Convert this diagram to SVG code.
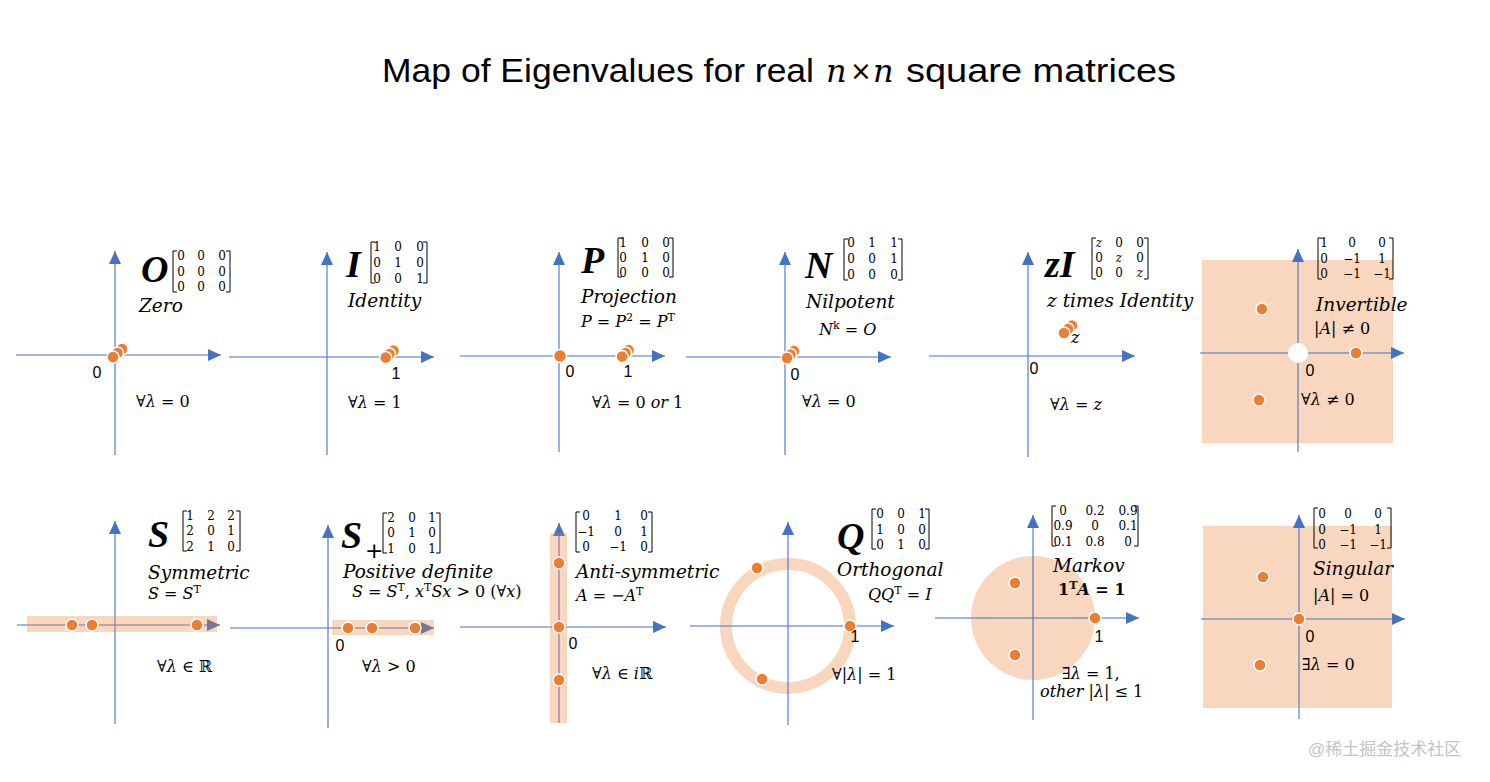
<svg xmlns="http://www.w3.org/2000/svg" width="1490" height="782" viewBox="0 0 1490 782">
<style>
.ax{stroke:#4472C4;stroke-width:1.1;fill:none}
.dot{fill:#ED7D31;stroke:#fff;stroke-width:1.5}
.sh{fill:#ED7D31;fill-opacity:0.31}
.ring{fill:none;stroke:#ED7D31;stroke-opacity:0.31;stroke-width:12}
.big{font-family:"Liberation Serif","DejaVu Serif",serif;font-style:italic;font-weight:bold;font-size:38px;fill:#000}
.lbl{font-family:"DejaVu Serif",serif;font-style:italic;font-size:18.5px;fill:#000}
.m{font-family:"DejaVu Serif",serif;font-size:16px;fill:#000}
.i{font-style:italic}
.sup{font-size:11px}
.mx{font-family:"DejaVu Serif",serif;font-size:12px;text-anchor:middle;fill:#000}
.br{stroke:#000;stroke-width:1;fill:none}
.tk{font-family:"Liberation Sans",Arial,sans-serif;font-size:16px;text-anchor:middle;fill:#000}
.title{font-family:"Liberation Sans",Arial,sans-serif;font-size:33px;fill:#000}
</style>
<defs>
<marker id="ah" markerUnits="userSpaceOnUse" markerWidth="14" markerHeight="12" viewBox="0 0 14 12" refX="13" refY="6" orient="auto">
<path d="M0,0 L13,6 L0,12 z" fill="#4472C4"/>
</marker>
</defs>
<rect width="1490" height="782" fill="#fff"/>

<g id="title">
<text class="title" x="382" y="82" textLength="432" lengthAdjust="spacingAndGlyphs">Map of Eigenvalues for real</text>
<text x="826" y="82" font-family="DejaVu Serif,serif" font-style="italic" font-size="32">n</text>
<text x="850" y="80" font-family="DejaVu Sans,sans-serif" font-size="26">×</text>
<text x="873" y="82" font-family="DejaVu Serif,serif" font-style="italic" font-size="32">n</text>
<text class="title" x="906" y="82" textLength="270" lengthAdjust="spacingAndGlyphs">square matrices</text>
</g>

<g id="connectors">
<line class="ax" x1="115" y1="455" x2="115" y2="251" marker-end="url(#ah)"/>
<line class="ax" x1="16" y1="355" x2="221" y2="355" marker-end="url(#ah)"/>
<line class="ax" x1="327" y1="455" x2="327" y2="252" marker-end="url(#ah)"/>
<line class="ax" x1="229" y1="357" x2="434" y2="357" marker-end="url(#ah)"/>
<line class="ax" x1="559" y1="452" x2="559" y2="252" marker-end="url(#ah)"/>
<line class="ax" x1="460" y1="356" x2="665" y2="356" marker-end="url(#ah)"/>
<line class="ax" x1="785" y1="455" x2="785" y2="252" marker-end="url(#ah)"/>
<line class="ax" x1="686" y1="357" x2="891" y2="357" marker-end="url(#ah)"/>
<line class="ax" x1="1028" y1="457" x2="1028" y2="252" marker-end="url(#ah)"/>
<line class="ax" x1="929" y1="356" x2="1135" y2="356" marker-end="url(#ah)"/>
</g>

<g id="zero">
<circle class="dot" cx="122" cy="349" r="6"/>
<circle class="dot" cx="117.5" cy="353" r="6"/>
<circle class="dot" cx="113" cy="357" r="6"/>
<text class="tk" x="97" y="378">0</text>
<text class="big" x="141" y="282">O</text>
<path class="br" d="M177,251 H173 V292 H177 M226,251 H230 V292 H226"/>
<text class="mx" y="260"><tspan x="181">0</tspan><tspan x="201">0</tspan><tspan x="222">0</tspan></text>
<text class="mx" y="276"><tspan x="181">0</tspan><tspan x="201">0</tspan><tspan x="222">0</tspan></text>
<text class="mx" y="291"><tspan x="181">0</tspan><tspan x="201">0</tspan><tspan x="222">0</tspan></text>
<text class="lbl" x="139" y="312">Zero</text>
<text class="m" x="136" y="407">∀<tspan class="i">λ</tspan> = 0</text>
</g>

<g id="identity">
<circle class="dot" cx="393.5" cy="350.5" r="6"/>
<circle class="dot" cx="389.5" cy="354" r="6"/>
<circle class="dot" cx="385.7" cy="357.5" r="6"/>
<text class="tk" x="396" y="378.5">1</text>
<text class="big" x="346" y="277">I</text>
<path class="br" d="M375,242 H371 V283 H375 M423,242 H427 V283 H423"/>
<text class="mx" y="251"><tspan x="377">1</tspan><tspan x="398">0</tspan><tspan x="420">0</tspan></text>
<text class="mx" y="267"><tspan x="377">0</tspan><tspan x="398">1</tspan><tspan x="420">0</tspan></text>
<text class="mx" y="283"><tspan x="377">0</tspan><tspan x="398">0</tspan><tspan x="420">1</tspan></text>
<text class="lbl" x="348" y="307">Identity</text>
<text class="m" x="348" y="408">∀<tspan class="i">λ</tspan> = 1</text>
</g>

<g id="projection">
<circle class="dot" cx="560" cy="356" r="6.5"/>
<circle class="dot" cx="628.5" cy="350" r="6"/>
<circle class="dot" cx="625.5" cy="353" r="6"/>
<circle class="dot" cx="622" cy="356.5" r="6"/>
<text class="tk" x="570" y="377">0</text>
<text class="tk" x="628" y="377">1</text>
<text class="big" x="581" y="273">P</text>
<path class="br" d="M622,238 H618 V277 H622 M669,238 H673 V277 H669"/>
<text class="mx" y="247"><tspan x="623">1</tspan><tspan x="645">0</tspan><tspan x="666">0</tspan></text>
<text class="mx" y="262"><tspan x="623">0</tspan><tspan x="645">1</tspan><tspan x="666">0</tspan></text>
<text class="mx" y="277"><tspan x="623">0</tspan><tspan x="645">0</tspan><tspan x="666">0</tspan></text>
<text class="lbl" x="581" y="303">Projection</text>
<text class="m" x="581" y="327"><tspan class="i">P</tspan> = <tspan class="i">P</tspan><tspan class="sup" dy="-6">2</tspan><tspan dy="6"> = </tspan><tspan class="i">P</tspan><tspan class="sup" dy="-6">T</tspan></text>
<text class="m" x="592" y="408">∀<tspan class="i">λ</tspan> = 0 <tspan class="i">or</tspan> 1</text>
</g>

<g id="nilpotent">
<circle class="dot" cx="794" cy="351" r="6"/>
<circle class="dot" cx="790.5" cy="354.5" r="6"/>
<circle class="dot" cx="787" cy="358" r="6"/>
<text class="tk" x="795" y="379.5">0</text>
<text class="big" x="805" y="278">N</text>
<path class="br" d="M848,239 H844 V280 H848 M898,239 H902 V280 H898"/>
<text class="mx" y="247"><tspan x="851">0</tspan><tspan x="872">1</tspan><tspan x="894">1</tspan></text>
<text class="mx" y="263"><tspan x="851">0</tspan><tspan x="872">0</tspan><tspan x="894">1</tspan></text>
<text class="mx" y="279"><tspan x="851">0</tspan><tspan x="872">0</tspan><tspan x="894">0</tspan></text>
<text class="lbl" x="806" y="308">Nilpotent</text>
<text class="m" x="819" y="335"><tspan class="i">N</tspan><tspan class="sup" dy="-6">k</tspan><tspan dy="6"> = </tspan><tspan class="i">O</tspan></text>
<text class="m" x="802" y="407">∀<tspan class="i">λ</tspan> = 0</text>
</g>

<g id="z-identity">
<circle class="dot" cx="1072" cy="325.5" r="6"/>
<circle class="dot" cx="1068" cy="329" r="6"/>
<circle class="dot" cx="1064" cy="333" r="6"/>
<text class="m i" x="1071" y="343">z</text>
<text class="tk" x="1034" y="373.5">0</text>
<text class="big" x="1045" y="277">zI</text>
<path class="br" d="M1096,238 H1092 V279 H1096 M1144,238 H1148 V279 H1144"/>
<text class="mx" y="247"><tspan x="1099" font-style="italic">z</tspan><tspan x="1119">0</tspan><tspan x="1140">0</tspan></text>
<text class="mx" y="262"><tspan x="1099">0</tspan><tspan x="1119" font-style="italic">z</tspan><tspan x="1140">0</tspan></text>
<text class="mx" y="277"><tspan x="1099">0</tspan><tspan x="1119">0</tspan><tspan x="1140" font-style="italic">z</tspan></text>
<text class="lbl" x="1047" y="307">z times Identity</text>
<text class="m" x="1050" y="410">∀<tspan class="i">λ</tspan> = <tspan class="i">z</tspan></text>
</g>

<g id="invertible">
<rect class="sh" x="1202" y="260" width="191" height="183"/>
<line class="ax" x1="1298" y1="452" x2="1298" y2="249" marker-end="url(#ah)"/>
<line class="ax" x1="1200" y1="353" x2="1404" y2="353" marker-end="url(#ah)"/>
<circle cx="1298" cy="353" r="10" fill="#fff"/>
<circle class="dot" cx="1262" cy="309" r="6"/>
<circle class="dot" cx="1356" cy="353" r="6"/>
<circle class="dot" cx="1259" cy="400" r="6"/>
<text class="tk" x="1310" y="376">0</text>
<path class="br" d="M1322,238 H1318 V279 H1322 M1389,238 H1393 V279 H1389"/>
<text class="mx" y="247"><tspan x="1324">1</tspan><tspan x="1352">0</tspan><tspan x="1382">0</tspan></text>
<text class="mx" y="263"><tspan x="1324">0</tspan><tspan x="1352">−1</tspan><tspan x="1382">1</tspan></text>
<text class="mx" y="278"><tspan x="1324">0</tspan><tspan x="1352">−1</tspan><tspan x="1382">−1</tspan></text>
<text class="lbl" x="1316" y="311">Invertible</text>
<text class="m" x="1314" y="334">|<tspan class="i">A</tspan>| ≠ 0</text>
<text class="m" x="1301" y="405">∀<tspan class="i">λ</tspan> ≠ 0</text>
</g>

<g id="symmetric">
<line class="ax" x1="115" y1="724" x2="115" y2="521" marker-end="url(#ah)"/>
<line class="ax" x1="17" y1="625" x2="220" y2="625" marker-end="url(#ah)"/>
<rect class="sh" x="27" y="616" width="190" height="16"/>
<circle class="dot" cx="72" cy="625" r="6"/>
<circle class="dot" cx="92" cy="625" r="6"/>
<circle class="dot" cx="197" cy="625" r="6"/>
<text class="big" x="148" y="547">S</text>
<path class="br" d="M187,511 H183 V551 H187 M236,511 H240 V551 H236"/>
<text class="mx" y="519.5"><tspan x="190">1</tspan><tspan x="211">2</tspan><tspan x="231">2</tspan></text>
<text class="mx" y="535"><tspan x="190">2</tspan><tspan x="211">0</tspan><tspan x="231">1</tspan></text>
<text class="mx" y="551"><tspan x="190">2</tspan><tspan x="211">1</tspan><tspan x="231">0</tspan></text>
<text class="lbl" x="148" y="579">Symmetric</text>
<text class="m" x="148" y="599"><tspan class="i">S</tspan> = <tspan class="i">S</tspan><tspan class="sup" dy="-6">T</tspan></text>
<text class="m" x="157" y="672">∀<tspan class="i">λ</tspan> ∈ ℝ</text>
</g>

<g id="positive-definite">
<line class="ax" x1="328" y1="728" x2="328" y2="525" marker-end="url(#ah)"/>
<line class="ax" x1="230" y1="628" x2="434" y2="628" marker-end="url(#ah)"/>
<rect class="sh" x="332" y="620" width="102" height="15"/>
<circle class="dot" cx="348" cy="628" r="6"/>
<circle class="dot" cx="372" cy="628" r="6"/>
<circle class="dot" cx="415" cy="628" r="6"/>
<text class="tk" x="340" y="650.5">0</text>
<text class="big" x="341" y="548">S</text>
<text x="365" y="558" font-family="DejaVu Sans,sans-serif" font-size="22" fill="#000">+</text>
<path class="br" d="M387,513 H383 V553 H387 M436,513 H440 V553 H436"/>
<text class="mx" y="521.5"><tspan x="391">2</tspan><tspan x="412">0</tspan><tspan x="432">1</tspan></text>
<text class="mx" y="537"><tspan x="391">0</tspan><tspan x="412">1</tspan><tspan x="432">0</tspan></text>
<text class="mx" y="552.5"><tspan x="391">1</tspan><tspan x="412">0</tspan><tspan x="432">1</tspan></text>
<text class="lbl" x="343" y="578">Positive definite</text>
<text class="m" x="352" y="597"><tspan class="i">S</tspan> = <tspan class="i">S</tspan><tspan class="sup" dy="-6">T</tspan><tspan dy="6">, </tspan><tspan class="i">x</tspan><tspan class="sup" dy="-6">T</tspan><tspan class="i" dy="6">Sx</tspan> &gt; 0 (∀<tspan class="i">x</tspan>)</text>
<text class="m" x="362" y="672">∀<tspan class="i">λ</tspan>  &gt; 0</text>
</g>

<g id="anti-symmetric">
<line class="ax" x1="460" y1="627" x2="666" y2="627" marker-end="url(#ah)"/>
<line class="ax" x1="559" y1="723" x2="559" y2="523" marker-end="url(#ah)"/>
<rect class="sh" x="550" y="533" width="17" height="190"/>
<circle class="dot" cx="559" cy="563" r="6"/>
<circle class="dot" cx="559" cy="627" r="6"/>
<circle class="dot" cx="559" cy="680" r="6"/>
<text class="tk" x="573" y="649">0</text>
<path class="br" d="M580,512 H576 V552 H580 M648,512 H652 V552 H648"/>
<text class="mx" y="520"><tspan x="586">0</tspan><tspan x="618">1</tspan><tspan x="644">0</tspan></text>
<text class="mx" y="535.5"><tspan x="586">−1</tspan><tspan x="618">0</tspan><tspan x="644">1</tspan></text>
<text class="mx" y="550.5"><tspan x="586">0</tspan><tspan x="618">−1</tspan><tspan x="644">0</tspan></text>
<text class="lbl" x="576" y="578">Anti-symmetric</text>
<text class="m" x="576" y="601"><tspan class="i">A</tspan> = −<tspan class="i">A</tspan><tspan class="sup" dy="-6">T</tspan></text>
<text class="m" x="592" y="679">∀<tspan class="i">λ</tspan> ∈ <tspan class="i">i</tspan>ℝ</text>
</g>

<g id="orthogonal">
<circle class="ring" cx="788" cy="626" r="62"/>
<line class="ax" x1="788" y1="725" x2="788" y2="522" marker-end="url(#ah)"/>
<line class="ax" x1="690" y1="626" x2="894" y2="626" marker-end="url(#ah)"/>
<circle class="dot" cx="757" cy="568" r="6"/>
<circle class="dot" cx="850" cy="626" r="6"/>
<circle class="dot" cx="762" cy="679" r="6"/>
<text class="tk" x="855" y="642">1</text>
<text class="big" x="837" y="549">Q</text>
<path class="br" d="M876,509 H872 V549 H876 M925,509 H929 V549 H925"/>
<text class="mx" y="517.5"><tspan x="880">0</tspan><tspan x="901">0</tspan><tspan x="922">1</tspan></text>
<text class="mx" y="533.5"><tspan x="880">1</tspan><tspan x="901">0</tspan><tspan x="922">0</tspan></text>
<text class="mx" y="549"><tspan x="880">0</tspan><tspan x="901">1</tspan><tspan x="922">0</tspan></text>
<text class="lbl" x="837" y="576">Orthogonal</text>
<text class="m" x="868" y="600"><tspan class="i">QQ</tspan><tspan class="sup" dy="-6">T</tspan><tspan dy="6"> = </tspan><tspan class="i">I</tspan></text>
<text class="m" x="832" y="680">∀|<tspan class="i">λ</tspan>| = 1</text>
</g>

<g id="markov">
<circle class="sh" cx="1033" cy="618" r="62"/>
<line class="ax" x1="1033" y1="720" x2="1033" y2="515" marker-end="url(#ah)"/>
<line class="ax" x1="935" y1="618" x2="1139" y2="618" marker-end="url(#ah)"/>
<circle class="dot" cx="1015" cy="583" r="6"/>
<circle class="dot" cx="1095" cy="618" r="6"/>
<circle class="dot" cx="1015" cy="655" r="6"/>
<text class="tk" x="1099" y="642">1</text>
<path class="br" d="M1056,506 H1052 V546 H1056 M1134,506 H1138 V546 H1134"/>
<text class="mx" y="515"><tspan x="1063">0</tspan><tspan x="1095">0.2</tspan><tspan x="1128">0.9</tspan></text>
<text class="mx" y="530"><tspan x="1063">0.9</tspan><tspan x="1095">0</tspan><tspan x="1128">0.1</tspan></text>
<text class="mx" y="545.5"><tspan x="1063">0.1</tspan><tspan x="1095">0.8</tspan><tspan x="1128">0</tspan></text>
<text class="lbl" x="1053" y="572">Markov</text>
<text class="m" x="1058" y="595" font-weight="bold">1<tspan class="sup" dy="-6">T</tspan><tspan class="i" dy="6">A</tspan> = 1</text>
<text class="m" x="1062" y="679">∃<tspan class="i">λ</tspan> = 1,</text>
<text class="m" x="1040" y="697"><tspan class="i">other</tspan> |<tspan class="i">λ</tspan>| ≤ 1</text>
</g>

<g id="singular">
<rect class="sh" x="1203" y="526" width="189" height="182"/>
<line class="ax" x1="1299" y1="719" x2="1299" y2="515" marker-end="url(#ah)"/>
<line class="ax" x1="1201" y1="619" x2="1405" y2="619" marker-end="url(#ah)"/>
<circle class="dot" cx="1263" cy="577" r="6"/>
<circle class="dot" cx="1299" cy="619" r="6"/>
<circle class="dot" cx="1260" cy="665" r="6"/>
<text class="tk" x="1310" y="641.5">0</text>
<path class="br" d="M1318,508 H1314 V548 H1318 M1387,508 H1391 V548 H1387"/>
<text class="mx" y="517.5"><tspan x="1322">0</tspan><tspan x="1348">0</tspan><tspan x="1378">0</tspan></text>
<text class="mx" y="533.5"><tspan x="1322">0</tspan><tspan x="1348">−1</tspan><tspan x="1378">1</tspan></text>
<text class="mx" y="548.5"><tspan x="1322">0</tspan><tspan x="1348">−1</tspan><tspan x="1378">−1</tspan></text>
<text class="lbl" x="1313" y="575">Singular</text>
<text class="m" x="1313" y="601">|<tspan class="i">A</tspan>| = 0</text>
<text class="m" x="1302" y="670">∃<tspan class="i">λ</tspan> = 0</text>
</g>

<g id="watermark">
<text x="1308" y="755" font-family="Liberation Sans,'Noto Sans CJK SC',sans-serif" font-size="17" fill="#c4c4c4">@稀土掘金技术社区</text>
</g>
</svg>
